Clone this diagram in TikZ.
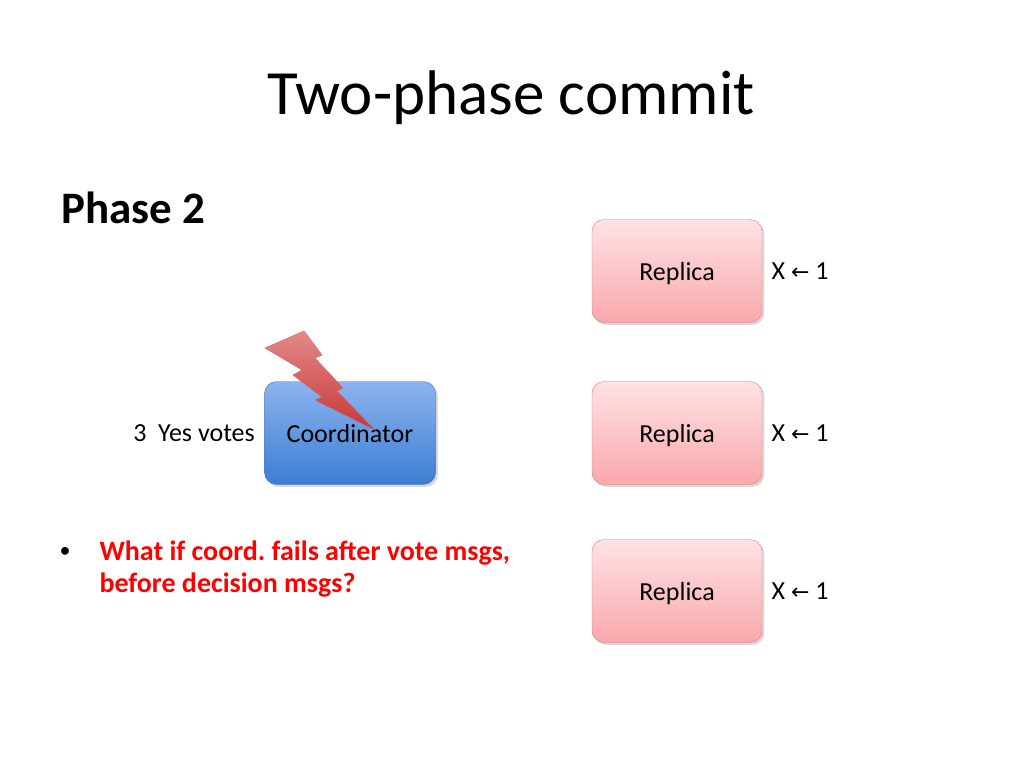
\documentclass[tikz,border=0pt]{standalone}
\usepackage{fontspec}
\setmainfont{Carlito}
\newfontfamily\symfont{DejaVu Sans}
\usetikzlibrary{positioning,shadows}
\frenchspacing
\definecolor{repTop}{RGB}{255,226,228}
\definecolor{repBot}{RGB}{250,168,172}
\definecolor{repLine}{RGB}{222,120,125}
\definecolor{coTop}{RGB}{140,180,240}
\definecolor{coBot}{RGB}{60,125,210}
\definecolor{coLine}{RGB}{80,120,190}
\definecolor{boltTop}{RGB}{250,150,150}
\definecolor{boltBot}{RGB}{220,60,60}
\tikzset{
  replica/.style={draw=repLine,rounded corners=12pt,top color=repTop,bottom color=repBot,
    minimum width=170pt,minimum height=103pt,text depth=0pt,font=\fontsize{26}{30}\selectfont,drop shadow={opacity=0.3}},
  coord/.style={draw=coLine,rounded corners=12pt,top color=coTop,bottom color=coBot,
    minimum width=171pt,minimum height=103pt,text depth=0pt,font=\fontsize{26}{30}\selectfont,drop shadow={opacity=0.3}},
  val/.style={font=\fontsize{26}{30}\selectfont,right=6pt}
}
\newcommand{\getsarrow}{{\symfont\fontsize{22}{26}\selectfont ←}}
\begin{document}
\begin{tikzpicture}[x=1pt,y=-1pt]
  \useasboundingbox (0,0) rectangle (1024,768);

  \node[font=\fontsize{63}{70}\selectfont] (title) at (511,98) {Two-phase commit};
  \node[font=\fontsize{45}{50}\selectfont\bfseries,anchor=west] (phase) at (58,208) {Phase 2};

  \node[replica] (R1) at (677,271) {Replica};
  \node[replica] (R2) at (677,433) {Replica};
  \node[replica] (R3) at (677,591) {Replica};
  \node[val] (V1) at (R1.east) {X \getsarrow\ 1};
  \node[val] (V2) at (R2.east) {X \getsarrow\ 1};
  \node[val] (V3) at (R3.east) {X \getsarrow\ 1};

  \node[coord] (Co) at (350,433) {Coordinator};
  \node[font=\fontsize{26}{30}\selectfont,left=6pt of Co] (votes) {3~ Yes votes};

  % lightning bolt
  \fill[top color=boltTop,bottom color=boltBot,draw=repLine,opacity=0.9]
    (265,348) -- (304,331) -- (322,355) -- (315,358) -- (343,388) -- (337,391)
    -- (375,430) -- (315,400) -- (322,397) -- (293,375) -- (302,370) -- cycle;

  \node[anchor=north west,text=red,font=\fontsize{28}{32}\selectfont\bfseries,align=left] (q) at (96,537)
    {What if coord. fails after vote msgs,\\before decision msgs?};
  \node[anchor=north west,font=\fontsize{22}{32}\selectfont] (dot) at (56,544) {•};
\end{tikzpicture}
\end{document}
